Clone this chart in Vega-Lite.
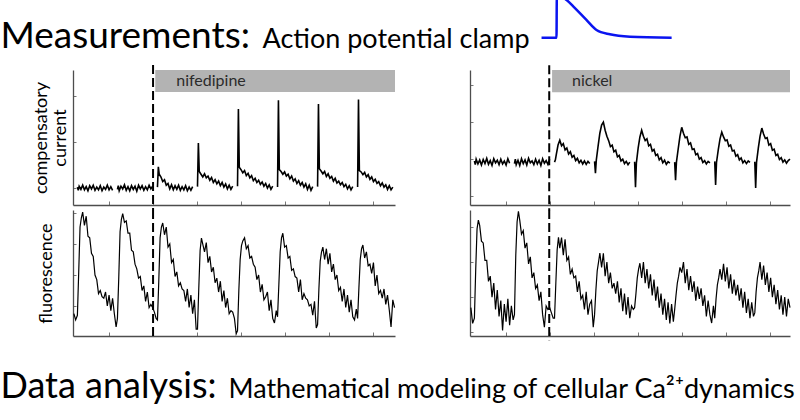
{
  "$schema": "https://vega.github.io/schema/vega-lite/v6.json",
  "background": "white",
  "padding": 0,
  "columns": 2,
  "spacing": {"row": 5, "column": 75},
  "bounds": "flush",
  "config": {
    "font": "Lato",
    "view": {"stroke": null},
    "axis": {
      "labels": false,
      "grid": false,
      "domainColor": "#4d4d4d",
      "domainWidth": 1.3,
      "tickColor": "#777777",
      "tickWidth": 1,
      "titleFont": "Lato",
      "titleFontWeight": "normal",
      "titleColor": "black",
      "titleFontSize": 18,
      "titleLineHeight": 19
    }
  },
  "datasets": {
    "ap": [
      {"t": 0, "v": -80}, {"t": 46, "v": -80}, {"t": 47, "v": 30}, {"t": 56, "v": 30},
      {"t": 77, "v": 20}, {"t": 102, "v": -1}, {"t": 138, "v": -33}, {"t": 169, "v": -59.6},
      {"t": 210, "v": -71}, {"t": 272, "v": -77.3}, {"t": 400, "v": -80}
    ],
    "drugL": [{"t": 1.05, "t2": 6.5, "label": "nifedipine"}],
    "drugR": [{"t": 1.045, "t2": 6.45, "label": "nickel"}],
    "onsetL": [{"t": 1.0}],
    "onsetR": [{"t": 0.98}],
    "curL": [
      {"b":0,"t":-0.72,"v":0.02},{"b":0,"t":-0.70,"v":-0.05},{"b":0,"t":-0.68,"v":0.04},{"b":0,"t":-0.64,"v":-0.03},{"b":0,"t":-0.60,"v":0.06},{"b":0,"t":-0.56,"v":-0.04},{"b":0,"t":-0.52,"v":0.03},{"b":0,"t":-0.48,"v":-0.06},{"b":0,"t":-0.44,"v":0.05},{"b":0,"t":-0.40,"v":-0.02},{"b":0,"t":-0.36,"v":0.06},{"b":0,"t":-0.32,"v":-0.05},{"b":0,"t":-0.28,"v":0.02},{"b":0,"t":-0.24,"v":-0.04},{"b":0,"t":-0.20,"v":0.05},{"b":0,"t":-0.16,"v":-0.06},{"b":0,"t":-0.12,"v":0.02},{"b":0,"t":-0.08,"v":-0.03},{"b":0,"t":-0.04,"v":0.06},{"b":0,"t":0.00,"v":-0.04},{"b":0,"t":0.04,"v":0.03},{"b":0,"t":0.08,"v":-0.05},
      {"b":1,"t":0.19,"v":-0.03},{"b":1,"t":0.21,"v":0.05},{"b":1,"t":0.23,"v":-0.06},{"b":1,"t":0.27,"v":0.04},{"b":1,"t":0.31,"v":-0.02},{"b":1,"t":0.35,"v":0.07},{"b":1,"t":0.39,"v":-0.05},{"b":1,"t":0.43,"v":0.03},{"b":1,"t":0.47,"v":-0.06},{"b":1,"t":0.51,"v":0.05},{"b":1,"t":0.55,"v":-0.03},{"b":1,"t":0.59,"v":0.04},{"b":1,"t":0.63,"v":-0.07},{"b":1,"t":0.67,"v":0.06},{"b":1,"t":0.71,"v":-0.02},{"b":1,"t":0.75,"v":0.05},{"b":1,"t":0.79,"v":-0.05},{"b":1,"t":0.83,"v":0.03},{"b":1,"t":0.87,"v":-0.04},{"b":1,"t":0.91,"v":0.06},{"b":1,"t":0.95,"v":-0.02},{"b":1,"t":0.99,"v":0.04},
      {"b":2,"t":1.10,"v":0.02},{"b":2,"t":1.12,"v":0.46},{"b":2,"t":1.14,"v":0.30},{"b":2,"t":1.18,"v":0.24},{"b":2,"t":1.22,"v":0.14},{"b":2,"t":1.26,"v":0.18},{"b":2,"t":1.30,"v":0.06},{"b":2,"t":1.34,"v":0.10},{"b":2,"t":1.38,"v":-0.02},{"b":2,"t":1.42,"v":0.07},{"b":2,"t":1.46,"v":-0.04},{"b":2,"t":1.50,"v":0.05},{"b":2,"t":1.54,"v":-0.03},{"b":2,"t":1.58,"v":0.06},{"b":2,"t":1.62,"v":-0.05},{"b":2,"t":1.66,"v":0.03},{"b":2,"t":1.70,"v":-0.04},{"b":2,"t":1.74,"v":0.05},{"b":2,"t":1.78,"v":-0.06},{"b":2,"t":1.82,"v":0.02},{"b":2,"t":1.86,"v":-0.05},{"b":2,"t":1.90,"v":0.03},
      {"b":3,"t":2.01,"v":0.03},{"b":3,"t":2.03,"v":0.98},{"b":3,"t":2.05,"v":0.36},{"b":3,"t":2.09,"v":0.30},{"b":3,"t":2.13,"v":0.24},{"b":3,"t":2.17,"v":0.31},{"b":3,"t":2.21,"v":0.22},{"b":3,"t":2.25,"v":0.26},{"b":3,"t":2.29,"v":0.17},{"b":3,"t":2.33,"v":0.23},{"b":3,"t":2.37,"v":0.12},{"b":3,"t":2.41,"v":0.18},{"b":3,"t":2.45,"v":0.09},{"b":3,"t":2.49,"v":0.15},{"b":3,"t":2.53,"v":0.05},{"b":3,"t":2.57,"v":0.12},{"b":3,"t":2.61,"v":0.02},{"b":3,"t":2.65,"v":0.09},{"b":3,"t":2.69,"v":-0.02},{"b":3,"t":2.73,"v":0.06},{"b":3,"t":2.77,"v":-0.03},{"b":3,"t":2.81,"v":0.04},
      {"b":4,"t":2.92,"v":0.04},{"b":4,"t":2.94,"v":1.72},{"b":4,"t":2.96,"v":0.45},{"b":4,"t":3.00,"v":0.40},{"b":4,"t":3.04,"v":0.33},{"b":4,"t":3.08,"v":0.38},{"b":4,"t":3.12,"v":0.27},{"b":4,"t":3.16,"v":0.32},{"b":4,"t":3.20,"v":0.22},{"b":4,"t":3.24,"v":0.27},{"b":4,"t":3.28,"v":0.16},{"b":4,"t":3.32,"v":0.21},{"b":4,"t":3.36,"v":0.12},{"b":4,"t":3.40,"v":0.17},{"b":4,"t":3.44,"v":0.08},{"b":4,"t":3.48,"v":0.13},{"b":4,"t":3.52,"v":0.04},{"b":4,"t":3.56,"v":0.10},{"b":4,"t":3.60,"v":0.00},{"b":4,"t":3.64,"v":0.07},{"b":4,"t":3.68,"v":-0.03},{"b":4,"t":3.72,"v":0.04},
      {"b":5,"t":3.83,"v":0.02},{"b":5,"t":3.85,"v":1.91},{"b":5,"t":3.87,"v":0.40},{"b":5,"t":3.91,"v":0.36},{"b":5,"t":3.95,"v":0.30},{"b":5,"t":3.99,"v":0.35},{"b":5,"t":4.03,"v":0.26},{"b":5,"t":4.07,"v":0.30},{"b":5,"t":4.11,"v":0.20},{"b":5,"t":4.15,"v":0.26},{"b":5,"t":4.19,"v":0.15},{"b":5,"t":4.23,"v":0.20},{"b":5,"t":4.27,"v":0.10},{"b":5,"t":4.31,"v":0.16},{"b":5,"t":4.35,"v":0.06},{"b":5,"t":4.39,"v":0.12},{"b":5,"t":4.43,"v":0.02},{"b":5,"t":4.47,"v":0.09},{"b":5,"t":4.51,"v":-0.03},{"b":5,"t":4.55,"v":0.06},{"b":5,"t":4.59,"v":-0.05},{"b":5,"t":4.63,"v":0.03},
      {"b":6,"t":4.74,"v":0.03},{"b":6,"t":4.76,"v":1.83},{"b":6,"t":4.78,"v":0.42},{"b":6,"t":4.82,"v":0.37},{"b":6,"t":4.86,"v":0.31},{"b":6,"t":4.90,"v":0.36},{"b":6,"t":4.94,"v":0.25},{"b":6,"t":4.98,"v":0.31},{"b":6,"t":5.02,"v":0.21},{"b":6,"t":5.06,"v":0.25},{"b":6,"t":5.10,"v":0.15},{"b":6,"t":5.14,"v":0.21},{"b":6,"t":5.18,"v":0.11},{"b":6,"t":5.22,"v":0.15},{"b":6,"t":5.26,"v":0.07},{"b":6,"t":5.30,"v":0.12},{"b":6,"t":5.34,"v":0.03},{"b":6,"t":5.38,"v":0.08},{"b":6,"t":5.42,"v":-0.02},{"b":6,"t":5.46,"v":0.05},{"b":6,"t":5.50,"v":-0.04},{"b":6,"t":5.54,"v":0.03},
      {"b":7,"t":5.65,"v":0.02},{"b":7,"t":5.67,"v":1.93},{"b":7,"t":5.69,"v":0.38},{"b":7,"t":5.73,"v":0.35},{"b":7,"t":5.77,"v":0.29},{"b":7,"t":5.81,"v":0.34},{"b":7,"t":5.85,"v":0.24},{"b":7,"t":5.89,"v":0.29},{"b":7,"t":5.93,"v":0.19},{"b":7,"t":5.97,"v":0.24},{"b":7,"t":6.01,"v":0.14},{"b":7,"t":6.05,"v":0.19},{"b":7,"t":6.09,"v":0.10},{"b":7,"t":6.13,"v":0.14},{"b":7,"t":6.17,"v":0.05},{"b":7,"t":6.21,"v":0.11},{"b":7,"t":6.25,"v":0.02},{"b":7,"t":6.29,"v":0.07},{"b":7,"t":6.33,"v":-0.03},{"b":7,"t":6.37,"v":0.05},{"b":7,"t":6.41,"v":-0.04},{"b":7,"t":6.45,"v":0.02}
    ],
    "curR": [
      {"b":0,"t":-0.72,"v":-0.05},{"b":0,"t":-0.70,"v":-0.15},{"b":0,"t":-0.68,"v":0.00},{"b":0,"t":-0.64,"v":-0.13},{"b":0,"t":-0.60,"v":-0.02},{"b":0,"t":-0.56,"v":-0.16},{"b":0,"t":-0.52,"v":-0.01},{"b":0,"t":-0.48,"v":-0.12},{"b":0,"t":-0.44,"v":0.02},{"b":0,"t":-0.40,"v":-0.14},{"b":0,"t":-0.36,"v":-0.04},{"b":0,"t":-0.32,"v":-0.17},{"b":0,"t":-0.28,"v":0.01},{"b":0,"t":-0.24,"v":-0.10},{"b":0,"t":-0.20,"v":-0.03},{"b":0,"t":-0.16,"v":-0.15},{"b":0,"t":-0.12,"v":0.00},{"b":0,"t":-0.08,"v":-0.13},{"b":0,"t":-0.04,"v":-0.05},{"b":0,"t":0.00,"v":-0.16},{"b":0,"t":0.04,"v":0.01},{"b":0,"t":0.08,"v":-0.11},
      {"b":1,"t":0.19,"v":-0.12},{"b":1,"t":0.21,"v":0.00},{"b":1,"t":0.23,"v":-0.15},{"b":1,"t":0.27,"v":-0.03},{"b":1,"t":0.31,"v":-0.17},{"b":1,"t":0.35,"v":0.01},{"b":1,"t":0.39,"v":-0.12},{"b":1,"t":0.43,"v":-0.02},{"b":1,"t":0.47,"v":-0.16},{"b":1,"t":0.51,"v":0.02},{"b":1,"t":0.55,"v":-0.10},{"b":1,"t":0.59,"v":-0.05},{"b":1,"t":0.63,"v":-0.15},{"b":1,"t":0.67,"v":0.00},{"b":1,"t":0.71,"v":-0.13},{"b":1,"t":0.75,"v":-0.03},{"b":1,"t":0.79,"v":-0.17},{"b":1,"t":0.83,"v":0.01},{"b":1,"t":0.87,"v":-0.11},{"b":1,"t":0.91,"v":-0.04},{"b":1,"t":0.95,"v":-0.14},{"b":1,"t":0.99,"v":0.00},
      {"b":2,"t":1.10,"v":-0.08},{"b":2,"t":1.12,"v":-0.02},{"b":2,"t":1.14,"v":0.12},{"b":2,"t":1.18,"v":0.38},{"b":2,"t":1.22,"v":0.51},{"b":2,"t":1.26,"v":0.36},{"b":2,"t":1.30,"v":0.42},{"b":2,"t":1.34,"v":0.25},{"b":2,"t":1.38,"v":0.30},{"b":2,"t":1.42,"v":0.14},{"b":2,"t":1.46,"v":0.20},{"b":2,"t":1.50,"v":0.05},{"b":2,"t":1.54,"v":0.10},{"b":2,"t":1.58,"v":-0.04},{"b":2,"t":1.62,"v":0.02},{"b":2,"t":1.66,"v":-0.10},{"b":2,"t":1.70,"v":-0.03},{"b":2,"t":1.74,"v":-0.13},{"b":2,"t":1.78,"v":-0.05},{"b":2,"t":1.82,"v":-0.14},{"b":2,"t":1.86,"v":-0.06},{"b":2,"t":1.90,"v":-0.12},
      {"b":3,"t":2.01,"v":-0.06},{"b":3,"t":2.03,"v":-0.38},{"b":3,"t":2.05,"v":-0.02},{"b":3,"t":2.09,"v":0.35},{"b":3,"t":2.13,"v":0.70},{"b":3,"t":2.17,"v":0.92},{"b":3,"t":2.21,"v":1.00},{"b":3,"t":2.25,"v":0.78},{"b":3,"t":2.29,"v":0.62},{"b":3,"t":2.33,"v":0.50},{"b":3,"t":2.37,"v":0.34},{"b":3,"t":2.41,"v":0.38},{"b":3,"t":2.45,"v":0.20},{"b":3,"t":2.49,"v":0.24},{"b":3,"t":2.53,"v":0.06},{"b":3,"t":2.57,"v":0.10},{"b":3,"t":2.61,"v":-0.05},{"b":3,"t":2.65,"v":0.00},{"b":3,"t":2.69,"v":-0.12},{"b":3,"t":2.73,"v":-0.06},{"b":3,"t":2.77,"v":-0.15},{"b":3,"t":2.81,"v":-0.08},
      {"b":4,"t":2.92,"v":-0.07},{"b":4,"t":2.94,"v":-0.76},{"b":4,"t":2.96,"v":-0.10},{"b":4,"t":3.00,"v":0.30},{"b":4,"t":3.04,"v":0.60},{"b":4,"t":3.08,"v":0.78},{"b":4,"t":3.12,"v":0.62},{"b":4,"t":3.16,"v":0.50},{"b":4,"t":3.20,"v":0.55},{"b":4,"t":3.24,"v":0.36},{"b":4,"t":3.28,"v":0.40},{"b":4,"t":3.32,"v":0.22},{"b":4,"t":3.36,"v":0.26},{"b":4,"t":3.40,"v":0.10},{"b":4,"t":3.44,"v":0.13},{"b":4,"t":3.48,"v":-0.02},{"b":4,"t":3.52,"v":0.04},{"b":4,"t":3.56,"v":-0.10},{"b":4,"t":3.60,"v":-0.03},{"b":4,"t":3.64,"v":-0.14},{"b":4,"t":3.68,"v":-0.07},{"b":4,"t":3.72,"v":-0.11},
      {"b":5,"t":3.83,"v":-0.08},{"b":5,"t":3.85,"v":-0.57},{"b":5,"t":3.87,"v":-0.08},{"b":5,"t":3.91,"v":0.28},{"b":5,"t":3.95,"v":0.62},{"b":5,"t":3.99,"v":0.86},{"b":5,"t":4.03,"v":0.70},{"b":5,"t":4.07,"v":0.58},{"b":5,"t":4.11,"v":0.60},{"b":5,"t":4.15,"v":0.40},{"b":5,"t":4.19,"v":0.44},{"b":5,"t":4.23,"v":0.26},{"b":5,"t":4.27,"v":0.28},{"b":5,"t":4.31,"v":0.12},{"b":5,"t":4.35,"v":0.15},{"b":5,"t":4.39,"v":0.00},{"b":5,"t":4.43,"v":0.04},{"b":5,"t":4.47,"v":-0.09},{"b":5,"t":4.51,"v":-0.04},{"b":5,"t":4.55,"v":-0.13},{"b":5,"t":4.59,"v":-0.06},{"b":5,"t":4.63,"v":-0.10},
      {"b":6,"t":4.74,"v":-0.06},{"b":6,"t":4.76,"v":-0.70},{"b":6,"t":4.78,"v":-0.09},{"b":6,"t":4.82,"v":0.25},{"b":6,"t":4.86,"v":0.55},{"b":6,"t":4.90,"v":0.73},{"b":6,"t":4.94,"v":0.60},{"b":6,"t":4.98,"v":0.50},{"b":6,"t":5.02,"v":0.52},{"b":6,"t":5.06,"v":0.35},{"b":6,"t":5.10,"v":0.38},{"b":6,"t":5.14,"v":0.22},{"b":6,"t":5.18,"v":0.24},{"b":6,"t":5.22,"v":0.08},{"b":6,"t":5.26,"v":0.12},{"b":6,"t":5.30,"v":-0.02},{"b":6,"t":5.34,"v":0.03},{"b":6,"t":5.38,"v":-0.10},{"b":6,"t":5.42,"v":-0.04},{"b":6,"t":5.46,"v":-0.12},{"b":6,"t":5.50,"v":-0.05},{"b":6,"t":5.54,"v":-0.09},
      {"b":7,"t":5.65,"v":-0.07},{"b":7,"t":5.67,"v":-0.78},{"b":7,"t":5.69,"v":-0.08},{"b":7,"t":5.73,"v":0.30},{"b":7,"t":5.77,"v":0.62},{"b":7,"t":5.81,"v":0.84},{"b":7,"t":5.85,"v":0.68},{"b":7,"t":5.89,"v":0.56},{"b":7,"t":5.93,"v":0.58},{"b":7,"t":5.97,"v":0.38},{"b":7,"t":6.01,"v":0.42},{"b":7,"t":6.05,"v":0.24},{"b":7,"t":6.09,"v":0.27},{"b":7,"t":6.13,"v":0.10},{"b":7,"t":6.17,"v":0.13},{"b":7,"t":6.21,"v":-0.01},{"b":7,"t":6.25,"v":0.04},{"b":7,"t":6.29,"v":-0.08},{"b":7,"t":6.33,"v":-0.02},{"b":7,"t":6.37,"v":-0.11},{"b":7,"t":6.41,"v":-0.04},{"b":7,"t":6.45,"v":0.00}
    ],
    "fluL": [
      {"t":-0.80,"v":-0.25},{"t":-0.76,"v":-0.45},
      {"t":-0.72,"v":-0.30},{"t":-0.69,"v":1.10},{"t":-0.66,"v":2.55},{"t":-0.63,"v":2.85},{"t":-0.60,"v":3.03},{"t":-0.56,"v":2.60},{"t":-0.52,"v":2.90},{"t":-0.48,"v":2.25},{"t":-0.44,"v":2.20},{"t":-0.40,"v":1.70},{"t":-0.36,"v":1.60},{"t":-0.32,"v":1.00},{"t":-0.28,"v":0.85},{"t":-0.24,"v":0.40},{"t":-0.20,"v":0.50},{"t":-0.16,"v":0.30},{"t":-0.12,"v":0.25},{"t":-0.08,"v":0.45},{"t":-0.04,"v":0.00},{"t":0.00,"v":0.35},{"t":0.04,"v":-0.15},{"t":0.08,"v":0.25},{"t":0.12,"v":-0.25},{"t":0.16,"v":-0.68},
      {"t":0.19,"v":-0.40},{"t":0.22,"v":0.90},{"t":0.25,"v":2.40},{"t":0.28,"v":2.80},{"t":0.31,"v":2.98},{"t":0.35,"v":2.70},{"t":0.39,"v":2.75},{"t":0.43,"v":2.35},{"t":0.47,"v":2.35},{"t":0.51,"v":1.80},{"t":0.55,"v":1.75},{"t":0.59,"v":1.35},{"t":0.63,"v":1.20},{"t":0.67,"v":0.90},{"t":0.71,"v":0.95},{"t":0.75,"v":0.50},{"t":0.79,"v":0.65},{"t":0.83,"v":0.15},{"t":0.87,"v":0.45},{"t":0.91,"v":-0.05},{"t":0.95,"v":0.05},{"t":0.99,"v":-0.05},{"t":1.03,"v":-0.20},{"t":1.07,"v":-0.40},
      {"t":1.10,"v":-0.45},{"t":1.13,"v":0.80},{"t":1.16,"v":2.20},{"t":1.19,"v":2.55},{"t":1.22,"v":2.68},{"t":1.26,"v":2.30},{"t":1.30,"v":2.55},{"t":1.34,"v":1.90},{"t":1.38,"v":2.00},{"t":1.42,"v":1.40},{"t":1.46,"v":1.50},{"t":1.50,"v":0.95},{"t":1.54,"v":1.10},{"t":1.58,"v":0.65},{"t":1.62,"v":0.75},{"t":1.66,"v":0.55},{"t":1.70,"v":0.50},{"t":1.74,"v":0.15},{"t":1.78,"v":0.55},{"t":1.82,"v":-0.05},{"t":1.86,"v":0.35},{"t":1.90,"v":-0.25},{"t":1.94,"v":0.20},{"t":1.98,"v":-0.75},
      {"t":2.01,"v":-0.75},{"t":2.04,"v":0.60},{"t":2.07,"v":1.80},{"t":2.10,"v":2.19},{"t":2.13,"v":2.00},{"t":2.17,"v":1.75},{"t":2.21,"v":2.05},{"t":2.25,"v":1.40},{"t":2.29,"v":1.60},{"t":2.33,"v":1.10},{"t":2.37,"v":1.25},{"t":2.41,"v":0.75},{"t":2.45,"v":0.90},{"t":2.49,"v":0.45},{"t":2.53,"v":0.80},{"t":2.57,"v":0.15},{"t":2.61,"v":0.50},{"t":2.65,"v":-0.05},{"t":2.69,"v":0.25},{"t":2.73,"v":-0.25},{"t":2.77,"v":-0.15},{"t":2.81,"v":-0.20},{"t":2.85,"v":-0.40},{"t":2.89,"v":-0.90},
      {"t":2.92,"v":-0.80},{"t":2.95,"v":0.50},{"t":2.98,"v":1.50},{"t":3.01,"v":1.95},{"t":3.04,"v":2.10},{"t":3.08,"v":2.20},{"t":3.12,"v":1.85},{"t":3.16,"v":1.95},{"t":3.20,"v":1.55},{"t":3.24,"v":1.60},{"t":3.28,"v":1.35},{"t":3.32,"v":1.25},{"t":3.36,"v":0.85},{"t":3.40,"v":1.00},{"t":3.44,"v":0.45},{"t":3.48,"v":0.70},{"t":3.52,"v":0.20},{"t":3.56,"v":0.30},{"t":3.60,"v":0.45},{"t":3.64,"v":-0.15},{"t":3.68,"v":0.20},{"t":3.72,"v":-0.40},{"t":3.76,"v":-0.55},{"t":3.80,"v":-0.15},
      {"t":3.83,"v":-0.35},{"t":3.86,"v":0.70},{"t":3.89,"v":1.75},{"t":3.92,"v":2.20},{"t":3.95,"v":2.35},{"t":3.99,"v":1.90},{"t":4.03,"v":1.95},{"t":4.07,"v":1.55},{"t":4.11,"v":1.60},{"t":4.15,"v":1.15},{"t":4.19,"v":1.20},{"t":4.23,"v":0.95},{"t":4.27,"v":0.90},{"t":4.31,"v":0.45},{"t":4.35,"v":0.85},{"t":4.39,"v":0.20},{"t":4.43,"v":0.40},{"t":4.47,"v":0.25},{"t":4.51,"v":0.20},{"t":4.55,"v":0.00},{"t":4.59,"v":0.05},{"t":4.63,"v":-0.30},{"t":4.67,"v":0.15},{"t":4.71,"v":-0.71},
      {"t":4.74,"v":-0.60},{"t":4.77,"v":0.55},{"t":4.80,"v":1.45},{"t":4.83,"v":1.75},{"t":4.86,"v":1.90},{"t":4.90,"v":1.50},{"t":4.94,"v":1.85},{"t":4.98,"v":1.35},{"t":5.02,"v":1.70},{"t":5.06,"v":1.10},{"t":5.10,"v":1.35},{"t":5.14,"v":0.85},{"t":5.18,"v":1.00},{"t":5.22,"v":0.50},{"t":5.26,"v":0.60},{"t":5.30,"v":0.15},{"t":5.34,"v":0.55},{"t":5.38,"v":-0.05},{"t":5.42,"v":0.35},{"t":5.46,"v":-0.20},{"t":5.50,"v":0.20},{"t":5.54,"v":-0.35},{"t":5.58,"v":-0.45},{"t":5.62,"v":-0.10},
      {"t":5.65,"v":-0.40},{"t":5.68,"v":0.60},{"t":5.71,"v":1.50},{"t":5.74,"v":1.85},{"t":5.77,"v":1.97},{"t":5.81,"v":1.55},{"t":5.85,"v":1.75},{"t":5.89,"v":1.30},{"t":5.93,"v":1.35},{"t":5.97,"v":1.05},{"t":6.01,"v":1.40},{"t":6.05,"v":0.65},{"t":6.09,"v":1.00},{"t":6.13,"v":0.40},{"t":6.17,"v":0.50},{"t":6.21,"v":0.25},{"t":6.25,"v":0.55},{"t":6.29,"v":0.05},{"t":6.33,"v":0.35},{"t":6.37,"v":-0.13},{"t":6.41,"v":-0.68},{"t":6.45,"v":0.20},{"t":6.49,"v":-0.05}
    ],
    "fluR": [
      {"t":-0.80,"v":-0.30},{"t":-0.76,"v":-0.75},
      {"t":-0.72,"v":-0.60},{"t":-0.69,"v":0.80},{"t":-0.66,"v":1.95},{"t":-0.63,"v":2.20},{"t":-0.60,"v":2.05},{"t":-0.56,"v":1.60},{"t":-0.52,"v":1.55},{"t":-0.48,"v":1.05},{"t":-0.44,"v":1.05},{"t":-0.40,"v":0.45},{"t":-0.36,"v":0.60},{"t":-0.32,"v":0.00},{"t":-0.28,"v":0.40},{"t":-0.24,"v":-0.35},{"t":-0.20,"v":0.20},{"t":-0.16,"v":-0.55},{"t":-0.12,"v":-0.10},{"t":-0.08,"v":-0.95},{"t":-0.04,"v":-0.20},{"t":0.00,"v":-0.70},{"t":0.04,"v":-0.05},{"t":0.08,"v":-0.80},{"t":0.12,"v":-0.25},{"t":0.16,"v":-0.65},
      {"t":0.19,"v":-0.50},{"t":0.22,"v":1.20},{"t":0.25,"v":2.15},{"t":0.28,"v":2.45},{"t":0.31,"v":2.20},{"t":0.35,"v":1.80},{"t":0.39,"v":1.90},{"t":0.43,"v":1.40},{"t":0.47,"v":1.55},{"t":0.51,"v":0.95},{"t":0.55,"v":1.15},{"t":0.59,"v":0.55},{"t":0.63,"v":0.70},{"t":0.67,"v":0.25},{"t":0.71,"v":0.35},{"t":0.75,"v":-0.10},{"t":0.79,"v":0.15},{"t":0.83,"v":-0.50},{"t":0.87,"v":-0.86},{"t":0.91,"v":-0.25},{"t":0.95,"v":-0.35},{"t":0.99,"v":-0.30},{"t":1.03,"v":-0.45},{"t":1.07,"v":-0.60},
      {"t":1.10,"v":-0.60},{"t":1.13,"v":0.40},{"t":1.16,"v":1.35},{"t":1.19,"v":1.71},{"t":1.22,"v":1.40},{"t":1.26,"v":1.70},{"t":1.30,"v":1.20},{"t":1.34,"v":1.65},{"t":1.38,"v":1.05},{"t":1.42,"v":1.15},{"t":1.46,"v":0.65},{"t":1.50,"v":0.80},{"t":1.54,"v":0.55},{"t":1.58,"v":0.60},{"t":1.62,"v":0.15},{"t":1.66,"v":0.45},{"t":1.70,"v":-0.05},{"t":1.74,"v":0.05},{"t":1.78,"v":-0.35},{"t":1.82,"v":0.15},{"t":1.86,"v":-0.50},{"t":1.90,"v":-0.20},{"t":1.94,"v":-0.10},{"t":1.98,"v":-0.86},
      {"t":2.01,"v":-0.50},{"t":2.04,"v":0.20},{"t":2.07,"v":0.75},{"t":2.10,"v":1.00},{"t":2.13,"v":1.26},{"t":2.17,"v":0.85},{"t":2.21,"v":1.25},{"t":2.25,"v":0.60},{"t":2.29,"v":1.00},{"t":2.33,"v":0.40},{"t":2.37,"v":0.70},{"t":2.41,"v":0.25},{"t":2.45,"v":0.40},{"t":2.49,"v":0.10},{"t":2.53,"v":0.45},{"t":2.57,"v":-0.15},{"t":2.61,"v":0.25},{"t":2.65,"v":-0.40},{"t":2.69,"v":0.10},{"t":2.73,"v":-0.50},{"t":2.77,"v":0.00},{"t":2.81,"v":-0.60},{"t":2.85,"v":-0.25},{"t":2.89,"v":-0.35},
      {"t":2.92,"v":-0.30},{"t":2.95,"v":0.10},{"t":2.98,"v":0.55},{"t":3.01,"v":0.80},{"t":3.04,"v":0.97},{"t":3.08,"v":0.55},{"t":3.12,"v":1.00},{"t":3.16,"v":0.40},{"t":3.20,"v":0.80},{"t":3.24,"v":0.25},{"t":3.28,"v":0.65},{"t":3.32,"v":0.05},{"t":3.36,"v":0.50},{"t":3.40,"v":-0.10},{"t":3.44,"v":0.30},{"t":3.48,"v":-0.30},{"t":3.52,"v":0.10},{"t":3.56,"v":-0.50},{"t":3.60,"v":-0.05},{"t":3.64,"v":-0.65},{"t":3.68,"v":-0.15},{"t":3.72,"v":-0.75},{"t":3.76,"v":-0.20},{"t":3.80,"v":-0.70},
      {"t":3.83,"v":-0.35},{"t":3.86,"v":0.05},{"t":3.89,"v":0.40},{"t":3.92,"v":0.60},{"t":3.95,"v":0.85},{"t":3.99,"v":0.70},{"t":4.03,"v":1.00},{"t":4.07,"v":0.40},{"t":4.11,"v":0.80},{"t":4.15,"v":0.20},{"t":4.19,"v":0.60},{"t":4.23,"v":0.15},{"t":4.27,"v":0.45},{"t":4.31,"v":-0.10},{"t":4.35,"v":0.30},{"t":4.39,"v":-0.05},{"t":4.43,"v":0.25},{"t":4.47,"v":-0.25},{"t":4.51,"v":0.05},{"t":4.55,"v":-0.55},{"t":4.59,"v":-0.10},{"t":4.63,"v":-0.50},{"t":4.67,"v":-0.74},{"t":4.71,"v":-0.25},
      {"t":4.74,"v":-0.60},{"t":4.77,"v":-0.05},{"t":4.80,"v":0.35},{"t":4.83,"v":0.55},{"t":4.86,"v":0.80},{"t":4.90,"v":0.50},{"t":4.94,"v":0.95},{"t":4.98,"v":0.45},{"t":5.02,"v":0.85},{"t":5.06,"v":0.25},{"t":5.10,"v":0.65},{"t":5.14,"v":0.10},{"t":5.18,"v":0.50},{"t":5.22,"v":0.05},{"t":5.26,"v":0.35},{"t":5.30,"v":-0.10},{"t":5.34,"v":0.25},{"t":5.38,"v":-0.30},{"t":5.42,"v":0.15},{"t":5.46,"v":-0.45},{"t":5.50,"v":-0.05},{"t":5.54,"v":-0.60},{"t":5.58,"v":-0.15},{"t":5.62,"v":-0.55},
      {"t":5.65,"v":-0.45},{"t":5.68,"v":0.15},{"t":5.71,"v":0.55},{"t":5.74,"v":0.75},{"t":5.77,"v":1.00},{"t":5.81,"v":0.50},{"t":5.85,"v":0.90},{"t":5.89,"v":0.35},{"t":5.93,"v":0.70},{"t":5.97,"v":0.15},{"t":6.01,"v":0.55},{"t":6.05,"v":0.00},{"t":6.09,"v":0.35},{"t":6.13,"v":-0.20},{"t":6.17,"v":0.20},{"t":6.21,"v":-0.35},{"t":6.25,"v":0.05},{"t":6.29,"v":-0.50},{"t":6.33,"v":0.00},{"t":6.37,"v":-0.55},{"t":6.41,"v":-0.05},{"t":6.45,"v":-0.30}
    ]
  },
  "concat": [
    {
      "width": 322,
      "height": 65,
      "data": {"values": []},
      "mark": "point"
    },
    {
      "width": 320,
      "height": 65,
      "data": {"name": "ap"},
      "mark": {"type": "line", "color": "#0a14f0", "strokeWidth": 2.5, "clip": true, "interpolate": "monotone"},
      "encoding": {
        "x": {
          "field": "t", "type": "quantitative",
          "scale": {"domain": [-220, 764], "nice": false, "zero": false},
          "axis": {"domain": false, "ticks": false, "title": "Action potential clamp", "titleX": -208, "titleY": -18, "titleAlign": "left", "titleBaseline": "alphabetic", "titleFontSize": 27}
        },
        "y": {
          "field": "v", "type": "quantitative",
          "scale": {"domain": [-152.4, 20], "nice": false, "zero": false},
          "axis": {"domain": false, "ticks": false, "title": "Measurements:", "titleAngle": 0, "titleX": -470, "titleY": 47, "titleAlign": "left", "titleBaseline": "alphabetic", "titleFontSize": 37}
        }
      }
    },
    {
      "width": 322,
      "height": 135,
      "encoding": {
        "x": {"field": "t", "type": "quantitative", "scale": {"domain": [-0.82, 6.5], "nice": false, "zero": false}, "axis": {"values": [0, 1, 2, 3, 4, 5, 6], "title": null, "tickSize": -4}}
      },
      "layer": [
        {"data": {"name": "drugL"}, "mark": {"type": "rect", "color": "#b3b3b3"}, "encoding": {"x2": {"field": "t2"}, "y": {"datum": 2.09}, "y2": {"datum": 2.57}}},
        {"data": {"name": "drugL"}, "mark": {"type": "text", "align": "left", "baseline": "middle", "dx": 21, "fontSize": 16, "color": "#2b2b2b"}, "encoding": {"y": {"datum": 2.33}, "text": {"field": "label"}}},
        {
          "data": {"name": "curL"},
          "mark": {"type": "line", "color": "black", "strokeWidth": 1.6},
          "encoding": {
            "y": {"field": "v", "type": "quantitative", "scale": {"domain": [-0.37, 2.57], "nice": false, "zero": false}, "axis": {"values": [0, 1, 2], "title": ["compensatory", "current"], "titlePadding": 3, "tickSize": -3}},
            "detail": {"field": "b", "type": "nominal"}
          }
        },
        {"data": {"name": "onsetL"}, "mark": {"type": "rule", "color": "black", "strokeWidth": 2, "strokeDash": [9, 4]}, "encoding": {"y": {"datum": 2.68}, "y2": {"datum": -0.48}}}
      ]
    },
    {
      "width": 320,
      "height": 135,
      "encoding": {
        "x": {"field": "t", "type": "quantitative", "scale": {"domain": [-0.82, 6.45], "nice": false, "zero": false}, "axis": {"values": [0, 1, 2, 3, 4, 5, 6], "title": null, "tickSize": -4}}
      },
      "layer": [
        {"data": {"name": "drugR"}, "mark": {"type": "rect", "color": "#b3b3b3"}, "encoding": {"x2": {"field": "t2"}, "y": {"datum": 1.81}, "y2": {"datum": 2.41}}},
        {"data": {"name": "drugR"}, "mark": {"type": "text", "align": "left", "baseline": "middle", "dx": 20, "fontSize": 16, "color": "#2b2b2b"}, "encoding": {"y": {"datum": 2.11}, "text": {"field": "label"}}},
        {
          "data": {"name": "curR"},
          "mark": {"type": "line", "color": "black", "strokeWidth": 1.6},
          "encoding": {
            "y": {"field": "v", "type": "quantitative", "scale": {"domain": [-1.24, 2.41], "nice": false, "zero": false}, "axis": {"values": [-1, 0, 1, 2], "title": null, "tickSize": -3}},
            "detail": {"field": "b", "type": "nominal"}
          }
        },
        {"data": {"name": "onsetR"}, "mark": {"type": "rule", "color": "black", "strokeWidth": 2, "strokeDash": [9, 4]}, "encoding": {"y": {"datum": 2.54}, "y2": {"datum": -1.38}}}
      ]
    },
    {
      "width": 322,
      "height": 126,
      "encoding": {
        "x": {"field": "t", "type": "quantitative", "scale": {"domain": [-0.82, 6.5], "nice": false, "zero": false}, "axis": {"values": [0, 1, 2, 3, 4, 5, 6], "tickSize": -4, "title": "Data analysis:", "titleX": -73, "titleY": 61, "titleAlign": "left", "titleBaseline": "alphabetic", "titleFontSize": 36}}
      },
      "layer": [
        {
          "data": {"name": "fluL"},
          "mark": {"type": "line", "color": "black", "strokeWidth": 1.2},
          "encoding": {
            "y": {"field": "v", "type": "quantitative", "scale": {"domain": [-0.97, 3.10], "nice": false, "zero": false}, "axis": {"values": [0, 1, 2, 3], "title": "fluorescence", "titlePadding": 17, "tickSize": -3}}
          }
        },
        {"data": {"name": "onsetL"}, "mark": {"type": "rule", "color": "black", "strokeWidth": 2, "strokeDash": [9, 4]}, "encoding": {"y": {"datum": 3.10}, "y2": {"datum": -1.10}}}
      ]
    },
    {
      "width": 320,
      "height": 126,
      "encoding": {
        "x": {"field": "t", "type": "quantitative", "scale": {"domain": [-0.82, 6.45], "nice": false, "zero": false}, "axis": {"values": [0, 1, 2, 3, 4, 5, 6], "tickSize": -4, "title": "Mathematical modeling of cellular Ca²⁺dynamics", "titleX": -242, "titleY": 61, "titleAlign": "left", "titleBaseline": "alphabetic", "titleFontSize": 27}}
      },
      "layer": [
        {
          "data": {"name": "fluR"},
          "mark": {"type": "line", "color": "black", "strokeWidth": 1.2},
          "encoding": {
            "y": {"field": "v", "type": "quantitative", "scale": {"domain": [-1.11, 2.49], "nice": false, "zero": false}, "axis": {"values": [-1, 0, 1, 2], "title": null, "tickSize": -3}}
          }
        },
        {"data": {"name": "onsetR"}, "mark": {"type": "rule", "color": "black", "strokeWidth": 2, "strokeDash": [9, 4]}, "encoding": {"y": {"datum": 2.49}, "y2": {"datum": -1.23}}}
      ]
    }
  ]
}
